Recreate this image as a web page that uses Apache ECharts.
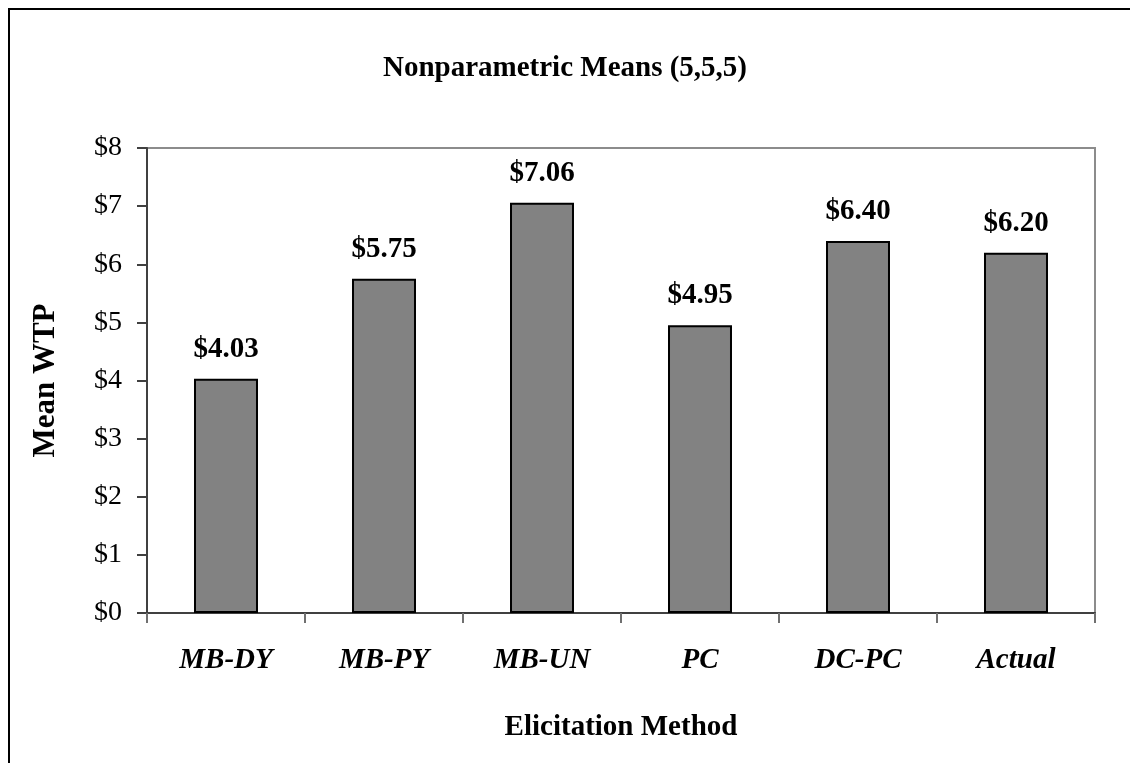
<!DOCTYPE html>
<html>
<head>
<meta charset="utf-8">
<script src="https://cdn.jsdelivr.net/npm/echarts@6/dist/echarts.min.js"></script>
<style>
  html, body { margin: 0; padding: 0; background: #ffffff; }
  #chart { width: 1130px; height: 763px; }
</style>
</head>
<body>
<div id="chart"></div>
<script>
// Mean willingness-to-pay by elicitation method
const methods = ['MB-DY', 'MB-PY', 'MB-UN', 'PC', 'DC-PC', 'Actual'];
const meanWTP = [4.03, 5.75, 7.06, 4.95, 6.40, 6.20];
const yTicks = [0, 1, 2, 3, 4, 5, 6, 7, 8];

const serif = '"Liberation Serif", "Times New Roman", serif';

const chart = echarts.init(document.getElementById('chart'), null, { renderer: 'canvas' });

chart.setOption({
  backgroundColor: '#ffffff',
  animation: false,
  graphic: [{
    type: 'rect',
    shape: { x: 9, y: 9, width: 1200, height: 800 },
    style: { fill: 'none', stroke: '#000000', lineWidth: 2 },
    silent: true
  }],
  title: {
    text: 'Nonparametric Means (5,5,5)',
    left: 'center',
    top: 49,
    textStyle: { fontFamily: serif, fontSize: 29, fontWeight: 'bold', color: '#000000' }
  },
  grid: {
    left: 147, right: 35, top: 148, bottom: 150,
    show: true,
    borderColor: '#8c8c8c',
    borderWidth: 2,
    backgroundColor: '#ffffff'
  },
  xAxis: {
    type: 'category',
    data: methods,
    name: 'Elicitation Method',
    nameLocation: 'middle',
    nameGap: 100,
    nameTextStyle: { fontFamily: serif, fontSize: 29, fontWeight: 'bold', color: '#000000' },
    axisLine: { lineStyle: { color: '#404040', width: 2 } },
    axisTick: { show: true, length: 10, alignWithLabel: false, lineStyle: { color: '#707070', width: 2 } },
    axisLabel: {
      margin: 33,
      fontFamily: serif, fontSize: 29, fontWeight: 'bold', fontStyle: 'italic', color: '#000000'
    }
  },
  yAxis: {
    type: 'value',
    min: yTicks[0],
    max: yTicks[yTicks.length - 1],
    interval: 1,
    name: 'Mean WTP',
    nameLocation: 'middle',
    nameGap: 86,
    nameRotate: 90,
    nameTextStyle: { fontFamily: serif, fontSize: 31, fontWeight: 'bold', color: '#000000' },
    axisLine: { show: true, lineStyle: { color: '#404040', width: 2 } },
    axisTick: { show: true, length: 10, lineStyle: { color: '#404040', width: 2 } },
    splitLine: { show: false },
    axisLabel: {
      margin: 25,
      fontFamily: serif, fontSize: 28, color: '#000000',
      formatter: v => '$' + v
    }
  },
  series: [{
    type: 'bar',
    data: meanWTP,
    barWidth: '40.5%',
    itemStyle: { color: '#828282', borderColor: '#000000', borderWidth: 2 },
    label: {
      show: true,
      position: 'top',
      distance: 15,
      fontFamily: serif, fontSize: 29, fontWeight: 'bold', color: '#000000',
      formatter: p => '$' + p.value.toFixed(2)
    }
  }]
});
</script>
</body>
</html>
